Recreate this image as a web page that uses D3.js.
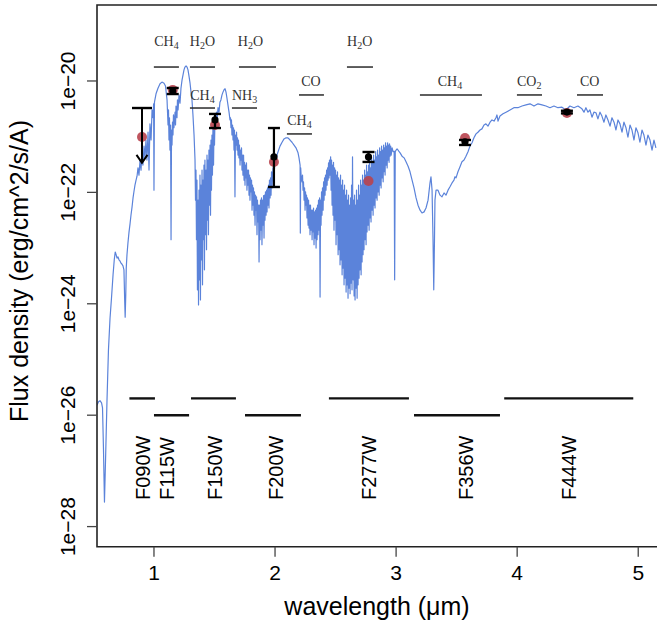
<!DOCTYPE html>
<html><head><meta charset="utf-8">
<script src="https://cdn.jsdelivr.net/npm/d3@7/dist/d3.min.js"></script>
<style>body{margin:0;background:#fff}svg{display:block}</style>
</head><body><svg id="chart" width="657" height="625"></svg>
<script>
// Model spectrum: [wavelength (µm), log10 flux density (erg/cm^2/s/A)]
const spectrum = [
[0.529,-25.82],[0.542,-25.76],[0.554,-25.74],[0.567,-25.78],[0.575,-25.87],[0.583,-26.62],[0.591,-27.56],[0.600,-26.80],[0.612,-25.73],[0.624,-24.83],[0.637,-24.26],[0.649,-23.90],[0.662,-23.48],[0.672,-23.21],[0.680,-23.07],[0.686,-23.11],[0.695,-23.18],[0.703,-23.16],[0.711,-23.21],[0.719,-23.23],[0.728,-23.27],[0.736,-23.29],[0.744,-23.32],[0.752,-23.39],[0.758,-23.93],[0.762,-24.24],[0.767,-23.84],[0.771,-23.36],[0.777,-23.12],[0.785,-22.91],[0.794,-22.71],[0.802,-22.57],[0.810,-22.41],[0.819,-22.26],[0.827,-22.10],[0.835,-21.98],[0.843,-21.87],[0.852,-21.78],[0.860,-21.71],
[0.868,-21.56],[0.876,-21.69],[0.885,-21.42],[0.893,-21.60],[0.901,-21.27],[0.909,-21.51],[0.918,-21.17],[0.926,-21.38],[0.934,-21.06],[0.942,-21.42],[0.951,-20.92],[0.959,-21.60],[0.967,-20.77],[0.976,-21.06],[0.984,-20.52],[0.992,-20.66],[0.997,-20.41],[1.000,-21.96],[1.004,-20.38],[1.017,-20.23],[1.033,-20.13],[1.050,-20.05],[1.066,-20.02],[1.083,-20.04],[1.095,-20.09],[1.108,-20.34],[1.116,-20.79],[1.120,-20.52],[1.124,-21.06],[1.128,-20.66],[1.132,-21.24],[1.137,-20.79],[1.141,-22.85],[1.145,-20.88],[1.149,-21.15],[1.153,-20.74],[1.157,-20.97],[1.161,-20.61],[1.165,-20.84],[1.174,-20.56],[1.178,-20.79],[1.182,-20.45],[1.190,-20.66],[1.194,-20.34],[1.199,-20.52],[1.207,-20.25],[1.215,-20.40],[1.223,-20.13],[1.232,-19.98],[1.240,-19.89],[1.248,-19.80],[1.256,-19.75],[1.265,-19.73],[1.273,-19.75],[1.281,-19.80],[1.289,-19.91],[1.298,-20.04],[1.306,-20.20],[1.314,-20.34],[1.322,-20.61],[1.331,-20.97],[1.339,-21.42],
[1.343,-22.14],[1.347,-21.60],[1.351,-22.85],[1.355,-21.78],[1.359,-23.75],[1.364,-22.14],[1.368,-24.02],[1.372,-21.96],[1.376,-23.57],[1.380,-21.69],[1.384,-23.93],[1.388,-21.87],[1.392,-23.21],[1.397,-21.60],[1.401,-23.66],[1.405,-21.78],[1.409,-22.85],[1.413,-21.51],[1.417,-23.39],[1.421,-21.42],[1.425,-22.76],[1.430,-21.60],[1.434,-23.03],[1.438,-21.33],[1.442,-22.50],[1.446,-21.42],[1.450,-22.76],[1.454,-21.24],[1.459,-22.23],[1.463,-21.15],[1.467,-22.41],[1.471,-21.06],[1.475,-21.96],[1.479,-20.97],[1.483,-21.69],[1.487,-20.84],[1.492,-21.51],[1.496,-20.79],[1.500,-21.15],[1.504,-20.66],[1.512,-20.84],[1.516,-20.56],[1.520,-20.74],[1.529,-20.48],[1.537,-20.56],[1.545,-20.38],[1.553,-20.34],[1.562,-20.25],[1.570,-20.20],[1.578,-20.16],[1.587,-20.14],[1.595,-20.20],[1.603,-20.31],[1.611,-20.43],[1.620,-20.56],[1.628,-20.70],
[1.632,-20.66],[1.636,-20.84],[1.640,-20.70],[1.644,-20.97],[1.649,-20.79],[1.653,-21.06],[1.657,-20.84],[1.661,-21.24],[1.665,-20.88],[1.669,-22.08],[1.673,-20.97],[1.677,-21.15],[1.682,-20.92],[1.686,-21.24],[1.690,-21.02],[1.694,-21.33],[1.698,-21.06],[1.702,-21.38],[1.706,-21.15],[1.711,-21.51],[1.715,-21.24],[1.719,-21.42],[1.723,-21.20],[1.727,-21.60],[1.731,-21.33],[1.735,-21.69],[1.740,-21.33],[1.744,-21.78],[1.748,-21.46],[1.752,-21.87],[1.756,-21.51],[1.760,-21.74],[1.764,-21.47],[1.768,-21.96],[1.773,-21.60],[1.777,-21.87],[1.781,-21.60],[1.785,-22.05],[1.789,-21.69],[1.793,-22.14],[1.797,-21.74],[1.801,-21.99],[1.806,-21.78],[1.810,-22.32],[1.814,-21.87],[1.818,-22.23],[1.822,-21.92],[1.826,-22.41],[1.830,-21.99],[1.835,-22.59],[1.839,-22.05],[1.843,-22.32],[1.847,-22.08],[1.851,-22.76],[1.855,-22.14],[1.859,-22.53],[1.864,-22.23],[1.868,-23.25],[1.872,-22.23],[1.876,-22.85],[1.880,-22.14],[1.884,-22.68],[1.888,-22.10],[1.892,-22.94],[1.897,-22.14],[1.901,-22.59],[1.905,-22.06],[1.909,-22.82],[1.913,-22.05],[1.917,-22.50],[1.921,-21.99],[1.926,-22.41],[1.930,-21.96],[1.934,-22.35],[1.938,-21.92],[1.942,-22.23],[1.946,-21.87],[1.950,-22.28],[1.954,-21.78],[1.959,-22.10],[1.963,-21.74],[1.967,-22.05],[1.971,-21.63],[1.975,-21.92],[1.983,-21.56],[1.992,-21.69],[2.000,-21.42],[2.008,-21.47],[2.016,-21.33],[2.025,-21.27],[2.041,-21.17],[2.058,-21.10],[2.074,-21.04],[2.091,-21.02],[2.107,-21.02],[2.124,-21.06],[2.140,-21.10],[2.157,-21.15],[2.173,-21.20],[2.190,-21.29],[2.198,-21.38],[2.207,-21.51],[2.209,-22.73],[2.212,-21.56],[2.215,-21.69],
[2.223,-21.81],[2.227,-21.69],[2.231,-21.96],[2.235,-21.81],[2.240,-22.14],[2.244,-21.92],[2.248,-22.32],[2.252,-21.99],[2.256,-22.23],[2.260,-22.05],[2.264,-22.46],[2.268,-22.10],[2.273,-22.59],[2.277,-22.14],[2.281,-22.64],[2.285,-22.23],[2.289,-22.76],[2.293,-22.23],[2.297,-22.68],[2.302,-22.32],[2.306,-22.85],[2.310,-22.32],[2.314,-22.71],[2.318,-22.28],[2.322,-22.94],[2.326,-22.35],[2.331,-22.82],[2.335,-22.32],[2.339,-23.00],[2.343,-22.28],[2.347,-22.85],[2.351,-22.23],[2.355,-22.76],[2.359,-22.14],[2.364,-22.68],[2.368,-22.10],[2.372,-23.88],[2.376,-22.14],[2.380,-22.59],[2.384,-21.99],[2.388,-22.41],[2.392,-21.92],[2.397,-22.32],[2.401,-21.81],[2.405,-22.14],[2.409,-21.74],[2.413,-22.05],[2.417,-21.69],[2.421,-21.96],[2.426,-21.60],[2.430,-21.87],[2.434,-21.56],[2.438,-21.78],[2.442,-21.47],[2.446,-21.74],[2.450,-21.42],[2.454,-21.69],
[2.459,-21.36],[2.463,-21.96],[2.467,-21.42],[2.471,-22.23],[2.475,-21.51],[2.479,-22.41],[2.483,-21.46],[2.487,-22.68],[2.492,-21.56],[2.496,-22.50],[2.500,-21.60],[2.504,-22.94],[2.508,-21.69],[2.512,-22.76],[2.516,-21.63],[2.521,-23.12],[2.525,-21.74],[2.529,-23.03],[2.533,-21.78],[2.537,-23.30],[2.541,-21.69],[2.545,-23.21],[2.549,-21.87],[2.554,-23.48],[2.558,-21.78],[2.562,-23.36],[2.566,-21.96],[2.570,-23.66],[2.574,-21.87],[2.578,-23.54],[2.583,-22.05],[2.587,-23.79],[2.591,-21.96],[2.595,-23.66],[2.599,-22.14],[2.603,-23.90],[2.607,-22.05],[2.611,-23.72],[2.616,-22.23],[2.620,-23.82],[2.624,-22.10],[2.628,-23.63],[2.632,-21.87],[2.636,-23.75],[2.640,-21.36],[2.645,-23.57],[2.649,-22.14],[2.653,-23.86],[2.657,-22.05],[2.661,-23.93],[2.665,-22.23],[2.669,-23.72],[2.673,-21.96],[2.678,-23.90],[2.682,-22.14],[2.686,-23.66],[2.690,-21.87],[2.694,-23.54],[2.698,-22.05],[2.702,-23.39],[2.707,-21.78],[2.711,-23.48],[2.715,-21.87],[2.719,-23.25],[2.723,-21.69],[2.727,-23.12],[2.731,-21.78],[2.735,-23.03],[2.740,-21.60],[2.744,-22.85],[2.748,-21.69],[2.752,-22.94],[2.756,-21.51],[2.760,-22.71],[2.764,-21.63],[2.769,-22.59],[2.773,-21.51],[2.777,-22.68],[2.781,-21.42],[2.785,-22.46],[2.789,-21.56],[2.793,-22.53],[2.797,-21.38],[2.802,-22.32],[2.806,-21.47],[2.810,-22.41],[2.814,-21.33],[2.818,-22.23],[2.822,-21.42],[2.826,-22.28],[2.831,-21.27],[2.835,-22.10],[2.839,-21.36],[2.843,-22.14],[2.847,-21.24],[2.851,-21.99],[2.855,-21.33],[2.860,-22.05],[2.864,-21.20],[2.868,-21.87],[2.872,-21.27],[2.876,-21.92],[2.880,-21.17],[2.884,-21.74],[2.888,-21.24],[2.893,-21.81],[2.897,-21.15],[2.901,-21.63],[2.905,-21.20],[2.909,-21.69],[2.913,-21.11],[2.917,-21.51],[2.921,-21.17],[2.926,-21.56],[2.930,-21.11],[2.934,-21.42],[2.938,-21.15],[2.942,-21.46],[2.946,-21.13],[2.950,-21.35],[2.955,-21.17],[2.959,-21.33],[2.967,-21.20],[2.975,-21.27],[2.984,-21.26],[2.988,-23.57],[2.993,-21.27],[3.000,-21.24],[3.008,-21.22],[3.016,-21.24],[3.025,-21.27],[3.033,-21.29],
[3.049,-21.35],[3.066,-21.38],[3.082,-21.45],[3.099,-21.53],[3.115,-21.63],[3.132,-21.78],[3.148,-21.92],[3.165,-22.10],[3.181,-22.23],[3.198,-22.32],[3.214,-22.37],[3.231,-22.35],[3.247,-22.28],[3.264,-22.14],[3.280,-21.83],[3.288,-21.72],[3.297,-21.96],[3.305,-22.85],[3.311,-23.75],[3.317,-22.85],[3.321,-22.14],[3.330,-21.96],[3.346,-21.96],[3.363,-22.05],[3.379,-22.08],[3.396,-22.01],[3.412,-22.05],[3.429,-21.96],[3.445,-21.90],[3.462,-21.83],[3.478,-21.78],[3.486,-21.72],[3.495,-21.74],[3.511,-21.63],[3.528,-21.54],[3.544,-21.45],[3.561,-21.42],[3.577,-21.35],[3.594,-21.27],[3.610,-21.17],[3.627,-21.11],[3.643,-21.02],[3.660,-20.95],[3.676,-20.92],[3.693,-20.88],[3.709,-20.86],[3.726,-20.79],[3.742,-20.77],[3.759,-20.81],[3.776,-20.74],[3.792,-20.70],[3.809,-20.72],[3.825,-20.66],[3.833,-20.61],[3.842,-20.72],[3.858,-20.63],[3.883,-20.59],[3.908,-20.56],[3.941,-20.52],[3.973,-20.48],[4.006,-20.48],[4.040,-20.45],[4.073,-20.43],[4.106,-20.41],[4.139,-20.45],[4.172,-20.41],[4.205,-20.43],[4.238,-20.45],[4.271,-20.48],[4.304,-20.45],[4.337,-20.48],[4.370,-20.47],[4.403,-20.52],[4.436,-20.45],[4.469,-20.48],[4.502,-20.45],[4.535,-20.50],[4.552,-20.56],[4.568,-20.48],[4.585,-20.56],[4.601,-20.52],[4.618,-20.65],[4.634,-20.56],[4.651,-20.57],[4.667,-20.68],[4.684,-20.56],[4.700,-20.63],[4.717,-20.74],[4.733,-20.61],[4.750,-20.70],[4.767,-20.81],[4.783,-20.66],[4.800,-20.74],[4.816,-20.88],[4.833,-20.70],[4.849,-20.77],[4.866,-20.92],[4.882,-20.74],[4.899,-20.84],[4.915,-21.01],[4.932,-20.79],[4.948,-20.88],[4.965,-21.06],[4.981,-20.84],[4.998,-20.93],[5.014,-21.10],[5.031,-20.88],[5.047,-20.97],[5.064,-21.15],[5.080,-20.97],[5.097,-21.06],[5.114,-21.24],[5.130,-21.06],[5.146,-21.20]
];

// Photometric filters
const filterNames = ["F090W","F115W","F150W","F200W","F277W","F356W","F444W"];
const filterRanges = [[0.797,1.008],[1.000,1.290],[1.306,1.677],[1.752,2.214],[2.445,3.106],[3.148,3.858],[3.893,4.959]];
const filterBarFlux = [2e-26,1e-26,2e-26,1e-26,2e-26,1e-26,2e-26];
const filterLabelWl = [0.905,1.105,1.497,2.004,2.768,3.577,4.424];
const filterLabelFlux = 3.0e-28;

// Observed photometry (black) and model photometry (red)
const pointWl   = [0.901,1.155,1.504,1.991,2.772,3.569,4.411];
const obsFlux   = [3.27e-21,6.61e-21,2.00e-21,4.33e-22,4.33e-22,8.04e-22,2.77e-21];
const obsHigh   = [null,7.48e-21,2.56e-21,1.43e-21,5.31e-22,8.73e-22,2.92e-21];
const obsLow    = [null,5.83e-21,1.43e-21,1.25e-22,3.52e-22,7.10e-22,2.62e-21];
const isUpperLimit = [true,false,false,false,false,false,false];
const upperLimitArrowTo = 3.39e-22;
const modelFlux = [9.89e-22,6.92e-21,1.62e-21,3.52e-22,1.60e-22,9.48e-22,2.66e-21];

// Molecular absorption bands
const molBase  = ["CH","H","H","CH","NH","CO","CH","H","CH","CO","CO"];
const molSub   = ["4","2","2","4","3","","4","2","4","2",""];
const molTail  = ["","O","O","","","","","O","","",""];
const molRange = [[0.999,1.206],[1.297,1.504],[1.702,2.008],[1.297,1.504],[1.644,1.851],[2.198,2.404],[2.098,2.305],[2.594,2.809],[3.197,3.709],[3.998,4.205],[4.494,4.709]];
const molLineFlux = [1.78e-20,1.78e-20,1.78e-20,3.27e-21,3.27e-21,5.61e-21,1.12e-21,1.78e-20,5.61e-21,5.61e-21,5.61e-21];
const molTextWl   = [1.103,1.400,1.797,1.400,1.748,2.297,2.202,2.699,3.445,4.100,4.599];
const molTextFlux = [4.25e-20,4.25e-20,4.25e-20,4.56e-21,4.56e-21,8.13e-21,1.62e-21,4.25e-20,8.13e-21,8.13e-21,8.13e-21];

// Axes
const xTicks = [1,2,3,4,5];
const yTicks = [1e-20,1e-22,1e-24,1e-26,1e-28];
const yTickLabels = ["1e\u221220","1e\u221222","1e\u221224","1e\u221226","1e\u221228"];
const xTitle = "wavelength (\u03bcm)";
const yTitle = "Flux density (erg/cm^2/s/A)";

const svg = d3.select("#chart");
const L = 97, R = 657.6, T = 5, B = 546.7;
const x = d3.scaleLinear().domain([0.5294, 5.16]).range([L, R]);
const y = d3.scaleLog().domain([Math.pow(10,-28.361), Math.pow(10,-18.636)]).range([B, T]);
const sans = "'Liberation Sans', Arial, Helvetica, sans-serif";
const serif = "'Liberation Serif', 'Times New Roman', serif";

svg.append("clipPath").attr("id","clip").append("rect")
  .attr("x",L).attr("y",T).attr("width",R-L).attr("height",B-T);

// spectrum
const line = d3.line().x(d => x(d[0])).y(d => y(Math.pow(10, d[1])));
svg.append("path").datum(spectrum).attr("clip-path","url(#clip)")
  .attr("d", line).attr("fill","none").attr("stroke","#5b83da")
  .attr("stroke-width",1.2).attr("stroke-linejoin","round");

// molecule bands
const mg = svg.append("g");
molRange.forEach((r,i) => {
  mg.append("line").attr("x1",x(r[0])).attr("x2",x(r[1]))
    .attr("y1",y(molLineFlux[i])).attr("y2",y(molLineFlux[i]))
    .attr("stroke","#2a2a2a").attr("stroke-width",1.5);
  const t = mg.append("text").attr("x",x(molTextWl[i])).attr("y",y(molTextFlux[i]))
    .attr("text-anchor","middle").attr("font-family",serif).attr("font-size",14)
    .attr("fill","#333");
  t.append("tspan").text(molBase[i]);
  if (molSub[i]) t.append("tspan").attr("font-size",10).attr("dy",3).text(molSub[i]);
  if (molTail[i]) t.append("tspan").attr("dy",-3).text(molTail[i]);
});

// filter bars and labels
const fg = svg.append("g");
filterRanges.forEach((r,i) => {
  fg.append("line").attr("x1",x(r[0])).attr("x2",x(r[1]))
    .attr("y1",y(filterBarFlux[i])).attr("y2",y(filterBarFlux[i]))
    .attr("stroke","#111").attr("stroke-width",2.4);
  const lx = x(filterLabelWl[i]) + 7.5, ly = y(filterLabelFlux);
  fg.append("text").attr("transform",`translate(${lx},${ly}) rotate(-90)`)
    .attr("font-family",sans).attr("font-size",20).attr("fill","#000")
    .text(filterNames[i]);
});

// data points
const pg = svg.append("g");
pointWl.forEach((w,i) => {
  const px = x(w);
  pg.append("circle").attr("cx",px).attr("cy",y(modelFlux[i])).attr("r",5)
    .attr("fill","#b8434e").attr("opacity",0.9);
});
pointWl.forEach((w,i) => {
  const px = x(w);
  if (isUpperLimit[i]) {
    const y0 = y(obsFlux[i]), y1 = y(upperLimitArrowTo);
    pg.append("line").attr("x1",px-10).attr("x2",px+10).attr("y1",y0).attr("y2",y0)
      .attr("stroke","#000").attr("stroke-width",2.4);
    pg.append("line").attr("x1",px).attr("x2",px).attr("y1",y0).attr("y2",y1)
      .attr("stroke","#000").attr("stroke-width",2);
    pg.append("path").attr("d",`M${px-5.5},${y1-8}L${px},${y1}L${px+5.5},${y1-8}`)
      .attr("fill","none").attr("stroke","#000").attr("stroke-width",2);
  } else {
    const yh = y(obsHigh[i]), yl = y(obsLow[i]);
    pg.append("line").attr("x1",px).attr("x2",px).attr("y1",yh).attr("y2",yl)
      .attr("stroke","#000").attr("stroke-width",2.2);
    [yh,yl].forEach(yy => pg.append("line").attr("x1",px-6).attr("x2",px+6)
      .attr("y1",yy).attr("y2",yy).attr("stroke","#000").attr("stroke-width",2.4));
    pg.append("circle").attr("cx",px).attr("cy",y(obsFlux[i])).attr("r",3.6).attr("fill","#000");
  }
});

// box
svg.append("path").attr("d",`M${R},${T}H${L}V${B}H${R}`).attr("fill","none")
  .attr("stroke","#222").attr("stroke-width",1.6);

// x axis
const ax = svg.append("g");
xTicks.forEach(v => {
  ax.append("line").attr("x1",x(v)).attr("x2",x(v)).attr("y1",B).attr("y2",B+10)
    .attr("stroke","#444").attr("stroke-width",1.3);
  ax.append("text").attr("x",x(v)).attr("y",580).attr("text-anchor","middle")
    .attr("font-family",sans).attr("font-size",21).text(v);
});
yTicks.forEach((v,i) => {
  ax.append("line").attr("x1",L-10).attr("x2",L).attr("y1",y(v)).attr("y2",y(v))
    .attr("stroke","#444").attr("stroke-width",1.3);
  ax.append("text").attr("transform",`translate(75,${y(v)}) rotate(-90)`)
    .attr("text-anchor","middle").attr("font-family",sans).attr("font-size",21)
    .text(yTickLabels[i]);
});
svg.append("text").attr("x",377).attr("y",615).attr("text-anchor","middle")
  .attr("font-family",sans).attr("font-size",25).text(xTitle);
svg.append("text").attr("transform","translate(28,271) rotate(-90)")
  .attr("text-anchor","middle").attr("font-family",sans).attr("font-size",25).text(yTitle);
</script></body></html>
